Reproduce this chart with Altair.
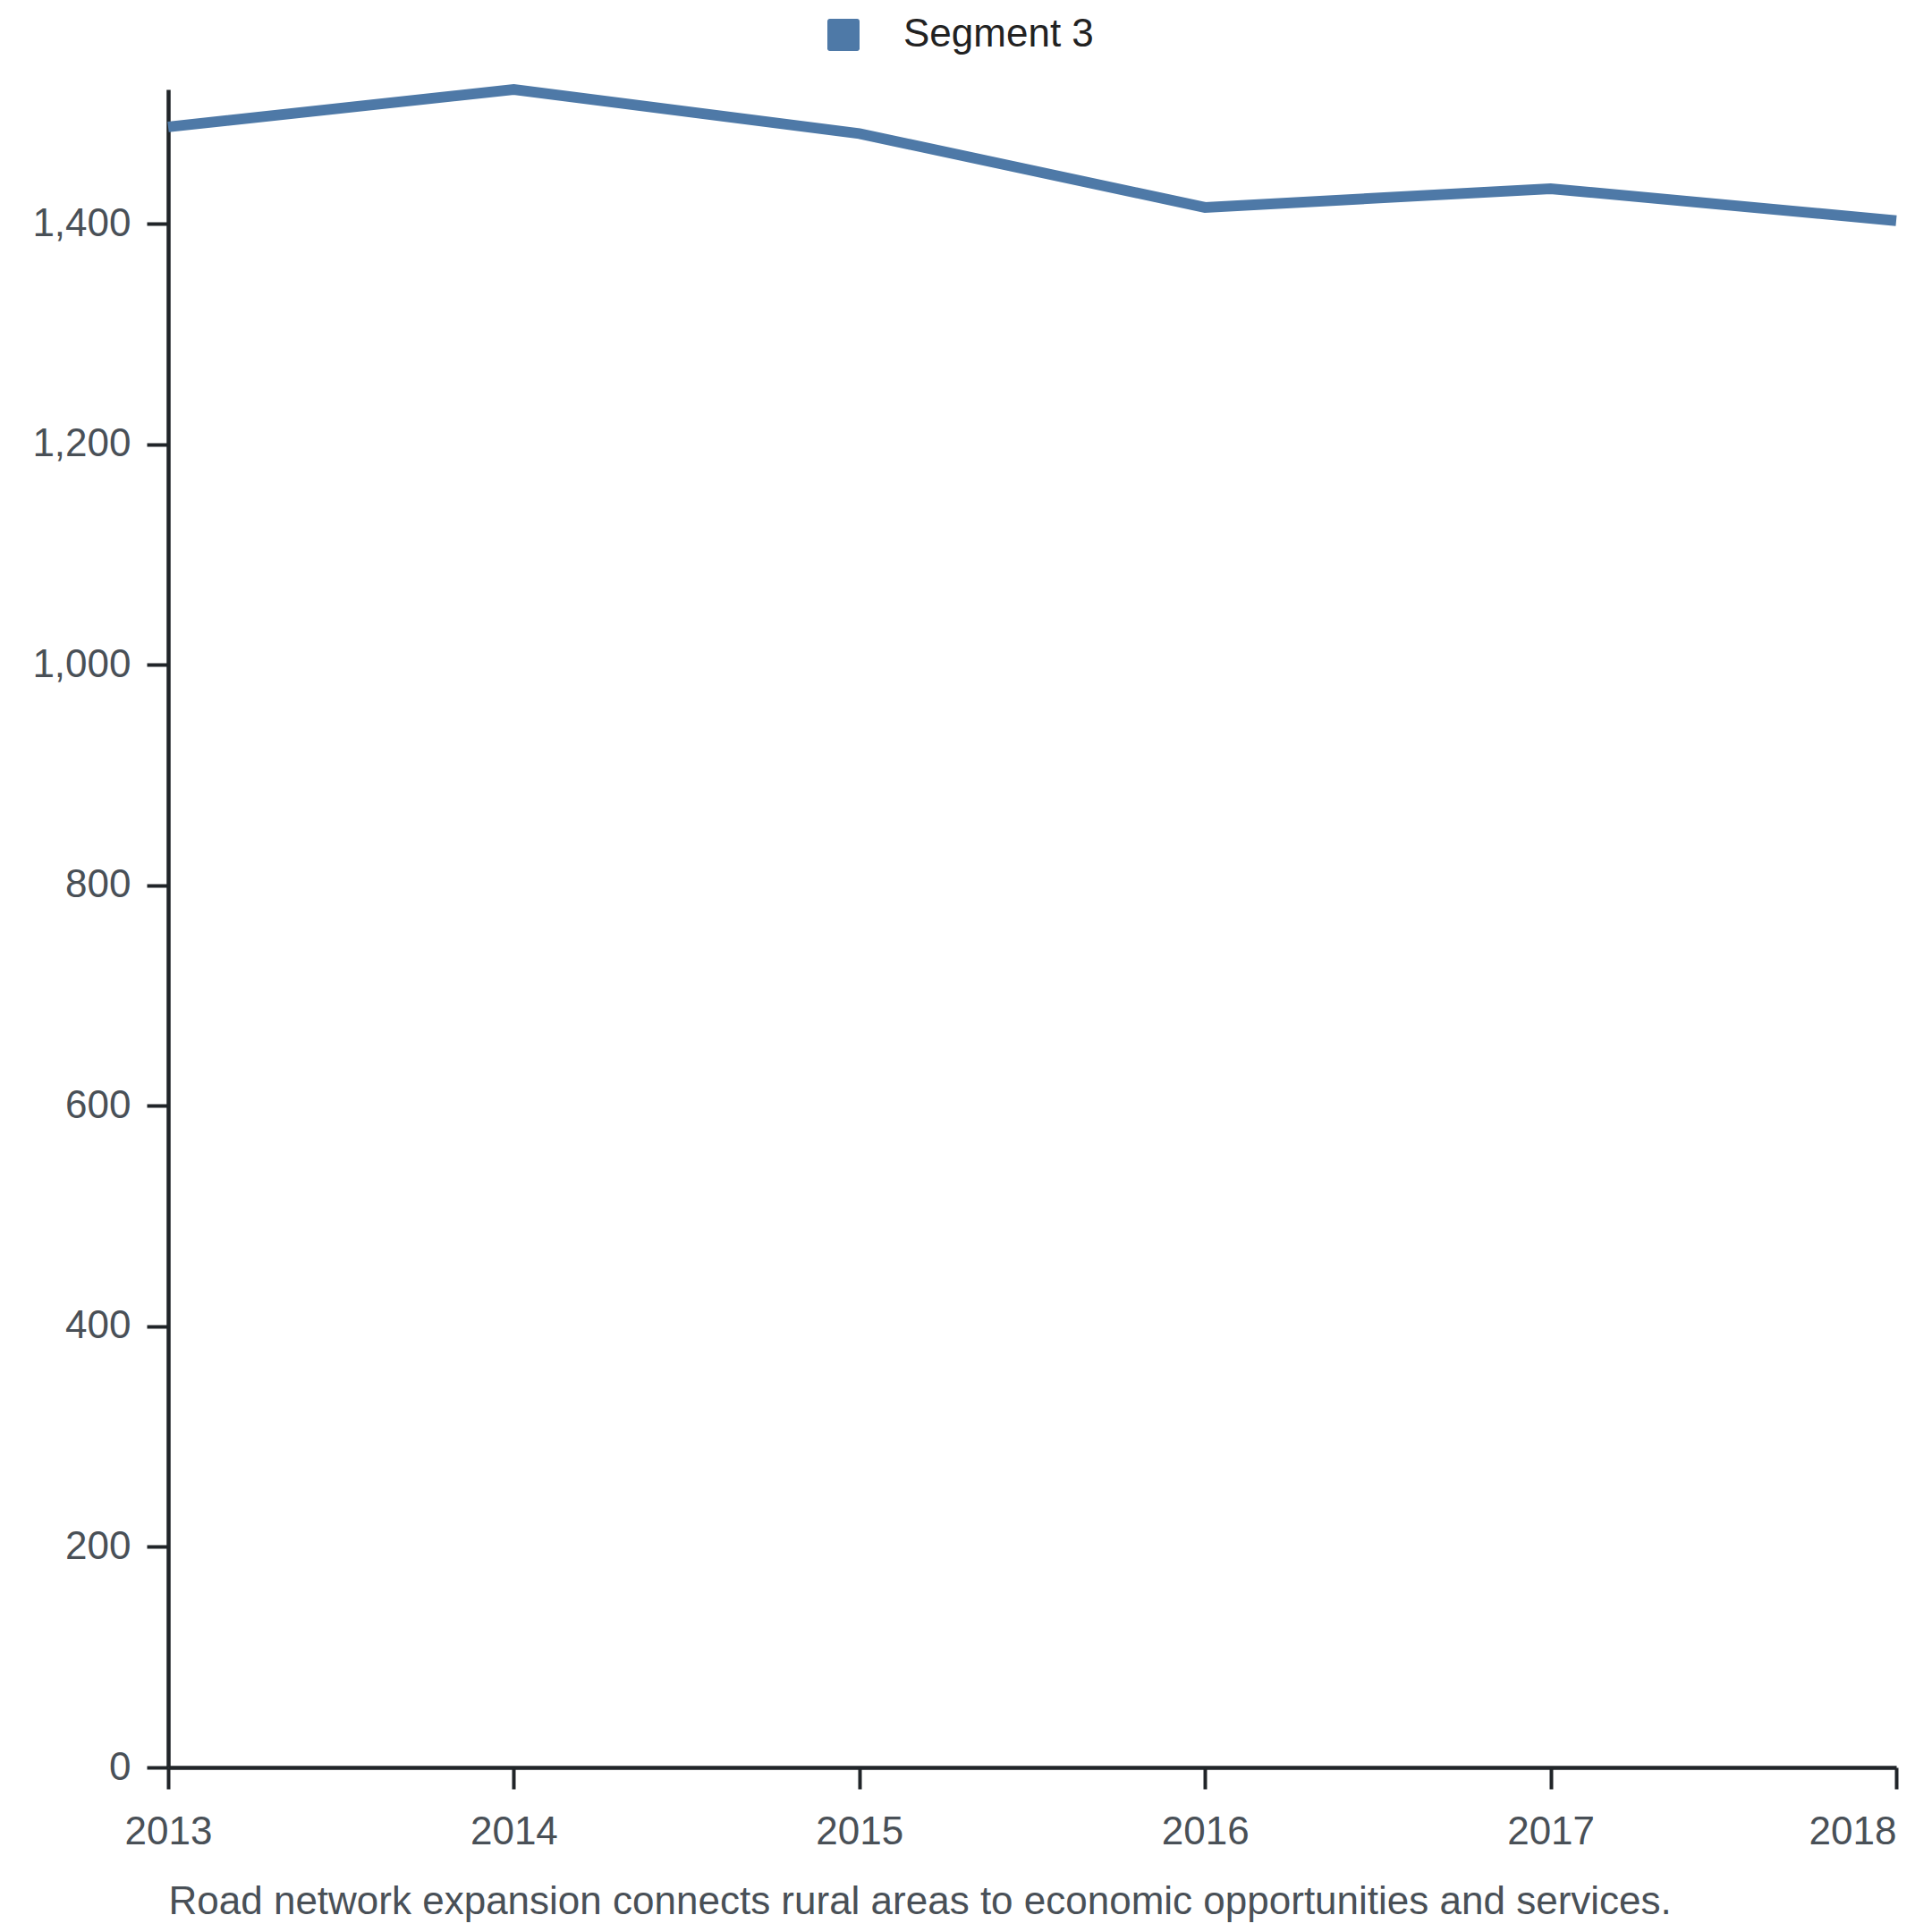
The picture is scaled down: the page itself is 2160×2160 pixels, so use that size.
import altair as alt
import pandas as pd

years = [2013, 2014, 2015, 2016, 2017, 2018]
values = [1488, 1522, 1482, 1415, 1432, 1403]
series = ["Segment 3"] * len(years)
y_ticks = [0, 200, 400, 600, 800, 1000, 1200, 1400]
caption = "Road network expansion connects rural areas to economic opportunities and services."

df = pd.DataFrame({"year": years, "value": values, "series": series})

rounded_square = ("M -0.85 -1 L 0.85 -1 A 0.15 0.15 0 0 1 1 -0.85 L 1 0.85 "
                  "A 0.15 0.15 0 0 1 0.85 1 L -0.85 1 A 0.15 0.15 0 0 1 -1 0.85 "
                  "L -1 -0.85 A 0.15 0.15 0 0 1 -0.85 -1 Z")

FONT = "Liberation Sans"
AXIS_COLOR = "#212529"
LABEL_COLOR = "#495057"

chart = alt.Chart(df).mark_line(strokeWidth=12, strokeJoin="miter", strokeCap="butt").encode(
    x=alt.X("year:Q",
            scale=alt.Scale(domain=[2013, 2018], nice=False, zero=False),
            axis=alt.Axis(values=years, format="d", grid=False, title=caption,
                          titleAnchor="start", titleAlign="left", titleFontWeight="normal",
                          titleFontSize=44, titleColor=LABEL_COLOR, titleFont=FONT,
                          titlePadding=34, titleLimit=0,
                          labelFontSize=44, labelColor=LABEL_COLOR, labelFont=FONT,
                          labelPadding=26, labelFlush=False,
                          labelAlign={"expr": "datum.value == 2018 ? 'right' : 'center'"},
                          tickSize=24, tickWidth=4, tickColor=AXIS_COLOR,
                          domainWidth=4.5, domainColor=AXIS_COLOR)),
    y=alt.Y("value:Q",
            scale=alt.Scale(domain=[0, 1522], nice=False),
            axis=alt.Axis(values=y_ticks, format=",d", grid=False, title=None,
                          labelFontSize=44, labelColor=LABEL_COLOR, labelFont=FONT,
                          labelPadding=18,
                          tickSize=24, tickWidth=4, tickColor=AXIS_COLOR,
                          domainWidth=4.5, domainColor=AXIS_COLOR)),
    color=alt.Color("series:N",
                    scale=alt.Scale(range=["#4e79a7"]),
                    legend=alt.Legend(title=None, orient="none", legendX=733, legendY=-83,
                                      padding=0, symbolType=rounded_square, symbolSize=1296,
                                      symbolStrokeWidth=0, symbolOpacity=1,
                                      labelFontSize=44, labelFont=FONT, labelColor="#222222",
                                      labelOffset=45, labelLimit=0)),
).properties(
    width=1932,
    height=1876,
    autosize=alt.AutoSizeParams(type="none"),
    padding={"left": 180, "top": 92, "right": 32, "bottom": 176},
).configure_view(stroke=None).configure_legend(symbolFillColor="#4e79a7")

chart.save("out.html", embed_options={"renderer": "svg", "actions": False})
